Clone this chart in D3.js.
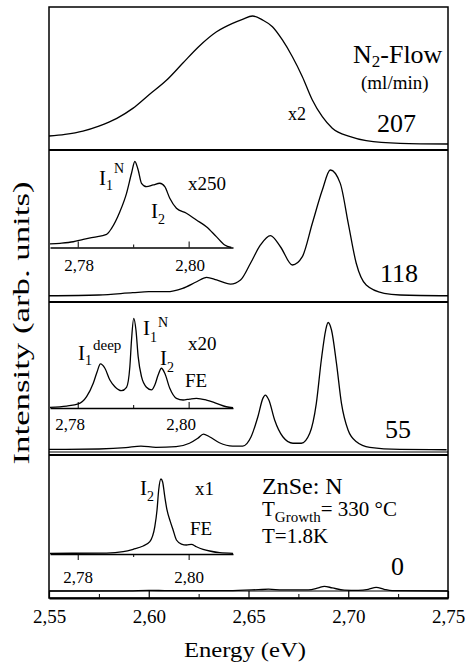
<!DOCTYPE html>
<html>
<head>
<meta charset="utf-8">
<script src="https://cdn.jsdelivr.net/npm/d3@7"></script>
<style>
  html, body { margin: 0; padding: 0; background: #fff; }
  svg { display: block; }
</style>
</head>
<body>
<svg id="chart" width="468" height="662"></svg>
<script>
'use strict';

// ─────────────────────────────────────────────────────────────────────────────
// PL spectra of ZnSe:N for four N2 flows
// ─────────────────────────────────────────────────────────────────────────────

const energyTicks = [2.55, 2.60, 2.65, 2.70, 2.75];
const energyMinorTicks = [2.575, 2.625, 2.675, 2.725];
const insetTicks = [2.78, 2.80];
const insetMinorTicks = [2.79];

const flowRates = ['207', '118', '55', '0'];
const scaleFactors = ['x2', 'x250', 'x20', 'x1'];

// 207 ml/min (broad band, x2)
const spec207E = [2.550, 2.558, 2.567, 2.575, 2.584, 2.592, 2.600, 2.609, 2.617, 2.625, 2.634, 2.642, 2.647, 2.652, 2.657, 2.662, 2.667, 2.672, 2.677, 2.682, 2.687, 2.692, 2.701, 2.709, 2.726, 2.750];
const spec207I = [8.4, 9.7, 12.2, 16.0, 21.9, 29.5, 39.7, 51.1, 63.9, 76.6, 88.0, 94.4, 97.5, 100, 97.0, 91.8, 81.7, 68.9, 53.7, 35.9, 23.1, 14.3, 7.9, 4.8, 2.8, 2.3];

// 118 ml/min
const spec118E = [2.550, 2.575, 2.592, 2.600, 2.609, 2.617, 2.624, 2.629, 2.634, 2.641, 2.646, 2.651, 2.656, 2.661, 2.666, 2.672, 2.677, 2.682, 2.687, 2.691, 2.696, 2.700, 2.704, 2.709, 2.718, 2.726, 2.750];
const spec118I = [0.2, 0.8, 2.6, 3.4, 3.4, 6.1, 11.3, 14.8, 12.7, 9.5, 12.7, 26.0, 40.5, 47.9, 39.1, 24.6, 31.2, 57.7, 84.1, 100, 89.4, 57.7, 26.0, 8.7, 2.1, 0.8, 0.2];
const inset118E = [2.7750, 2.7768, 2.7792, 2.7810, 2.7828, 2.7852, 2.7861, 2.7876, 2.7888, 2.7897, 2.7903, 2.7909, 2.7915, 2.7924, 2.7936, 2.7948, 2.7957, 2.7966, 2.7978, 2.7996, 2.8014, 2.8032, 2.8050, 2.8065, 2.8077];
const inset118I = [4.1, 4.9, 6.7, 9.5, 11.9, 15.3, 22.3, 41.6, 63.0, 86.3, 100, 90.1, 74.7, 70.7, 72.7, 74.7, 70.7, 57.2, 45.6, 39.8, 32.0, 24.2, 12.6, 2.9, 0];

// 55 ml/min
const spec55E = [2.5500, 2.5751, 2.5885, 2.5961, 2.6036, 2.6137, 2.6204, 2.6246, 2.6274, 2.6304, 2.6354, 2.6421, 2.6471, 2.6513, 2.6547, 2.6572, 2.6584, 2.6602, 2.6631, 2.6672, 2.6723, 2.6765, 2.6807, 2.6840, 2.6865, 2.6887, 2.6899, 2.6916, 2.6941, 2.6966, 2.6999, 2.7041, 2.7108, 2.7259, 2.7493];
const spec55I = [0.5, 0.8, 1.8, 3.1, 2.1, 2.6, 5.3, 9.2, 12.5, 10.4, 5.7, 3.1, 3.1, 10.4, 26.1, 40.5, 43.1, 39.2, 23.5, 10.4, 5.3, 5.3, 13.1, 36.6, 70.6, 94.1, 100, 94.1, 68.0, 36.6, 15.7, 6.5, 2.1, 0.5, 0.2];
const inset55E = [2.7750, 2.7780, 2.7801, 2.7816, 2.7828, 2.7835, 2.7841, 2.7849, 2.7858, 2.7867, 2.7879, 2.7888, 2.7894, 2.7897, 2.7901, 2.7905, 2.7909, 2.7915, 2.7924, 2.7933, 2.7939, 2.7945, 2.7951, 2.7957, 2.7966, 2.7978, 2.7990, 2.8002, 2.8014, 2.8032, 2.8050, 2.8068, 2.8080];
const inset55I = [0.8, 2.2, 4.5, 12.6, 27.5, 40.5, 49.1, 44.3, 31.2, 23.7, 19.3, 23.1, 46.0, 75.8, 100, 87.0, 57.2, 34.9, 23.1, 20.1, 25.6, 36.8, 44.3, 38.7, 22.0, 10.8, 8.9, 10.0, 10.8, 8.9, 5.2, 1.4, 0.3];

// 0 ml/min
const spec0E = [2.550, 2.590, 2.600, 2.610, 2.640, 2.655, 2.660, 2.667, 2.680, 2.685, 2.688, 2.692, 2.698, 2.705, 2.710, 2.714, 2.718, 2.722, 2.750];
const spec0I = [0, 0.2, 0.6, 0.3, 0.3, 1.2, 1.6, 1.0, 1.0, 2.8, 4.2, 2.8, 0.8, 0.6, 1.5, 3.3, 1.5, 0.3, 0];
const inset0E = [2.7750, 2.7852, 2.7882, 2.7900, 2.7918, 2.7930, 2.7939, 2.7943, 2.7946, 2.7950, 2.7953, 2.7957, 2.7961, 2.7967, 2.7972, 2.7978, 2.7987, 2.7996, 2.8005, 2.8014, 2.8026, 2.8038, 2.8056, 2.8080];
const inset0I = [0.9, 1.3, 3.1, 6.3, 10.7, 16.4, 36.4, 58.7, 85.3, 100, 96.4, 76.4, 58.7, 43.1, 32.0, 18.7, 13.3, 12.0, 12.9, 9.7, 6.3, 4.0, 1.7, 0.9];

// ── layout ──────────────────────────────────────────────────────────────────
const frame = { left: 49, right: 448, top: 7, bottom: 598 };
const separators = [150, 302, 455];
const FONT = "'Liberation Serif'";

const svg = d3.select('#chart');
const fmt = d3.formatLocale({ decimal: ',', thousands: '.', grouping: [3], currency: ['', ''] }).format('.2f');

const x = d3.scaleLinear().domain([2.55, 2.75]).range([frame.left, frame.right]);
const xInset = d3.scaleLinear().domain([2.775, 2.808]).range([50, 233]);

// Each panel: main curve y-range (0 → baseline, 100 → peak) and optional inset
const panels = [
  { E: spec207E, I: spec207I, y: [147, 16] },
  { E: spec118E, I: spec118I, y: [296, 170],
    inset: { E: inset118E, I: inset118I, y: [247.5, 161.5], dir: -1, pad: 11, dx: 1 } },
  { E: spec55E, I: spec55I, y: [450, 322.5],
    inset: { E: inset55E, I: inset55I, y: [408, 318.3], dir: -1, pad: 10, dx: -8 } },
  { E: spec0E, I: spec0I, y: [591, 480],
    inset: { E: inset0E, I: inset0I, y: [554, 479], dir: 1, pad: 11, dx: 0 } }
];

function drawCurve(xs, E, I, yScale) {
  const line = d3.line()
    .x(d => xs(d[0]))
    .y(d => yScale(d[1]))
    .curve(d3.curveMonotoneX);
  svg.append('path')
    .datum(d3.zip(E, I))
    .attr('d', line)
    .attr('fill', 'none')
    .attr('stroke', '#000')
    .attr('stroke-width', 1.3)
    .attr('stroke-linejoin', 'round');
}

function addLabel(px, py, size, parts) {
  const t = svg.append('text')
    .attr('x', px).attr('y', py)
    .style('font-family', FONT)
    .style('font-size', size + 'px')
    .attr('fill', '#000');
  parts.forEach(p => {
    t.append('tspan')
      .attr('dx', p.dx || 0)
      .attr('dy', p.dy || 0)
      .style('font-size', (p.size || size) + 'px')
      .text(p.t);
  });
  return t;
}

// d3 axes put a sans font on the group; swap it for the serif one
function styleAxis(g, size) {
  g.attr('font-family', null).attr('font-size', null);
  g.selectAll('.tick text')
    .style('font-family', FONT)
    .style('font-size', size + 'px')
    .attr('fill', '#000');
}

// ── curves & insets ─────────────────────────────────────────────────────────
panels.forEach(p => {
  const y = d3.scaleLinear().domain([0, 100]).range(p.y);
  drawCurve(x, p.E, p.I, y);

  if (!p.inset) return;
  const ins = p.inset;
  const yi = d3.scaleLinear().domain([0, 100]).range(ins.y);
  drawCurve(xInset, ins.E, ins.I, yi);

  const g = svg.append('g').attr('transform', `translate(0,${ins.y[0]})`);
  g.call(d3.axisBottom(xInset)
      .tickValues(insetTicks)
      .tickFormat(fmt)
      .tickSizeInner(ins.dir * 6)
      .tickSizeOuter(0)
      .tickPadding(ins.pad));
  styleAxis(g, 17);
  g.select('.domain').attr('stroke-width', 1.6);
  g.selectAll('.tick line').attr('stroke-width', 1);
  g.selectAll('.tick text').attr('dx', ins.dx);

  const gm = svg.append('g').attr('transform', `translate(0,${ins.y[0]})`);
  gm.call(d3.axisBottom(xInset).tickValues(insetMinorTicks).tickFormat('').tickSize(ins.dir * 3));
  gm.select('.domain').remove();
});

// ── frame, separators and bottom axis ──────────────────────────────────────
svg.append('rect')
  .attr('x', frame.left).attr('y', frame.top)
  .attr('width', frame.right - frame.left)
  .attr('height', frame.bottom - frame.top)
  .attr('fill', 'none')
  .attr('stroke', '#000')
  .attr('stroke-width', 1.5);

svg.selectAll('line.sep')
  .data(separators)
  .join('line')
  .attr('class', 'sep')
  .attr('x1', frame.left).attr('x2', frame.right)
  .attr('y1', d => d).attr('y2', d => d)
  .attr('stroke', '#000')
  .attr('stroke-width', 2);

// thin base lines in the two lower panels
[452, 591].forEach(yy => {
  svg.append('line')
    .attr('x1', frame.left).attr('x2', frame.right)
    .attr('y1', yy).attr('y2', yy)
    .attr('stroke', '#000')
    .attr('stroke-width', 1);
});

const axisG = svg.append('g').attr('transform', `translate(0,${frame.bottom})`);
axisG.call(d3.axisBottom(x)
    .tickValues(energyTicks)
    .tickFormat(fmt)
    .tickSizeInner(-7)
    .tickSizeOuter(0)
    .tickPadding(12));
styleAxis(axisG, 19);
axisG.select('.domain').attr('stroke-width', 2);
axisG.selectAll('.tick line').attr('stroke-width', 1.2);

const minorG = svg.append('g').attr('transform', `translate(0,${frame.bottom})`);
minorG.call(d3.axisBottom(x).tickValues(energyMinorTicks).tickFormat('').tickSize(-4));
minorG.select('.domain').remove();

// ── axis titles ─────────────────────────────────────────────────────────────
svg.append('text')
  .attr('x', 245).attr('y', 657)
  .attr('text-anchor', 'middle')
  .style('font-family', FONT)
  .style('font-size', '22px')
  .attr('textLength', 122)
  .attr('lengthAdjust', 'spacingAndGlyphs')
  .text('Energy (eV)');

svg.append('text')
  .attr('transform', 'translate(29,323) rotate(-90)')
  .attr('text-anchor', 'middle')
  .style('font-family', FONT)
  .style('font-size', '23px')
  .attr('textLength', 283)
  .attr('lengthAdjust', 'spacingAndGlyphs')
  .text('Intensity (arb. units)');

// ── annotations ─────────────────────────────────────────────────────────────
// panel 1
addLabel(353, 63, 26, [{ t: 'N' }, { t: '2', dy: 4, size: 17 }, { t: '-Flow', dy: -4 }]);
addLabel(361, 89, 19, [{ t: '(ml/min)' }]);
addLabel(288, 120, 18, [{ t: scaleFactors[0] }]);
addLabel(377, 132, 26, [{ t: flowRates[0] }]);

// panel 2
addLabel(380, 282, 26, [{ t: flowRates[1] }]);
addLabel(188, 190, 19, [{ t: scaleFactors[1] }]);
addLabel(99, 185, 21, [{ t: 'I' }, { t: '1', dy: 5, size: 14 }, { t: 'N', dx: 1, dy: -17, size: 14 }]);
addLabel(151, 218, 21, [{ t: 'I' }, { t: '2', dy: 6, size: 14 }]);

// panel 3
addLabel(385, 438, 26, [{ t: flowRates[2] }]);
addLabel(188, 350, 19, [{ t: scaleFactors[2] }]);
addLabel(78, 360, 21, [{ t: 'I' }, { t: '1', dy: 5, size: 14 }, { t: 'deep', dx: 1, dy: -15, size: 15 }]);
addLabel(143, 335, 21, [{ t: 'I' }, { t: '1', dy: 7, size: 14 }, { t: 'N', dx: 1, dy: -15, size: 14 }]);
addLabel(160, 365, 21, [{ t: 'I' }, { t: '2', dy: 7, size: 14 }]);
addLabel(185, 387, 19, [{ t: 'FE' }]);

// panel 4
addLabel(391, 575, 26, [{ t: flowRates[3] }]);
addLabel(195, 495, 19, [{ t: scaleFactors[3] }]);
addLabel(140, 495, 21, [{ t: 'I' }, { t: '2', dy: 6, size: 14 }]);
addLabel(190, 535, 19, [{ t: 'FE' }]);
addLabel(262, 494, 24, [{ t: 'ZnSe: N' }]);
addLabel(262, 516, 21, [{ t: 'T' }, { t: 'Growth', dy: 6, size: 15 }, { t: '= 330 °C', dy: -6 }]);
addLabel(262, 543, 21, [{ t: 'T=1.8K' }]);
</script>
</body>
</html>
